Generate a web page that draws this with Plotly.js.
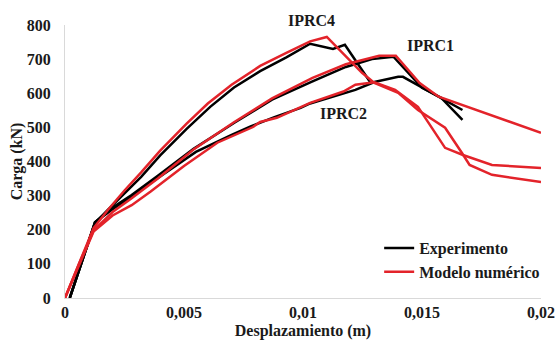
<!DOCTYPE html>
<html>
<head>
<meta charset="utf-8">
<script src="https://cdn.plot.ly/plotly-3.0.1.min.js"></script>
<style>html,body{margin:0;padding:0;background:#fff;}#chart{width:558px;height:348px;}</style>
</head>
<body>
<div id="chart"></div>
<script>
// Experimental curves (black)
const expIPRC4_x = [0.0002, 0.00126, 0.0018, 0.0025, 0.0032, 0.0040, 0.0051, 0.0061, 0.0071, 0.0082, 0.0093, 0.0103, 0.01126, 0.01176, 0.01282];
const expIPRC4_y = [0, 220, 258, 305, 355, 418, 495, 560, 617, 665, 705, 745, 730, 742, 633];
const expIPRC1_x = [0.0002, 0.00126, 0.0020, 0.0028, 0.0039, 0.0054, 0.0071, 0.0087, 0.0104, 0.0118, 0.0129, 0.0138, 0.0150, 0.0158, 0.0167];
const expIPRC1_y = [0, 222, 265, 302, 358, 437, 513, 581, 635, 677, 700, 707, 616, 587, 522];
const expIPRC2_x = [0.0002, 0.00126, 0.0020, 0.0028, 0.0036, 0.0055, 0.0070, 0.0078, 0.0088, 0.0099, 0.0103, 0.0122, 0.0130, 0.0140, 0.0142, 0.0154, 0.0167];
const expIPRC2_y = [0, 222, 260, 297, 337, 428, 478, 503, 530, 557, 570, 610, 633, 648, 648, 601, 551];
// Numerical model curves (red)
const numIPRC4_x = [0, 0.0006, 0.0012, 0.0018, 0.0025, 0.0032, 0.0040, 0.0051, 0.0060, 0.0070, 0.0082, 0.0093, 0.0103, 0.0110, 0.01248, 0.0130, 0.0140, 0.01483, 0.01597, 0.01668, 0.0170, 0.01794, 0.0200];
const numIPRC4_y = [0, 105, 205, 258, 315, 368, 432, 510, 570, 625, 680, 718, 752, 765, 660, 630, 601, 551, 499, 425, 390, 361, 340];
const numIPRC1_x = [0, 0.0006, 0.0012, 0.0020, 0.0028, 0.0039, 0.0054, 0.0071, 0.0087, 0.0104, 0.0118, 0.0125, 0.0132, 0.0139, 0.0149, 0.0157, 0.0169, 0.0200];
const numIPRC1_y = [0, 102, 198, 252, 292, 350, 435, 515, 585, 645, 685, 698, 710, 710, 630, 590, 560, 484];
const numIPRC2_x = [0, 0.0006, 0.0012, 0.0020, 0.0028, 0.0036, 0.0050, 0.0064, 0.0079, 0.0082, 0.0089, 0.0103, 0.0117, 0.0122, 0.0130, 0.01387, 0.01483, 0.01597, 0.01672, 0.01794, 0.0200];
const numIPRC2_y = [0, 100, 195, 242, 272, 312, 387, 455, 501, 516, 528, 572, 605, 625, 632, 610, 560, 440, 419, 390, 381];
// Labels (data coordinates)
const labelText = ['IPRC4', 'IPRC1', 'IPRC2'];
const labelX = [0.01034, 0.01534, 0.01172];
const labelY = [812, 739, 542];
const xTicks = [0, 0.005, 0.01, 0.015, 0.02];
const yTicks = [0, 100, 200, 300, 400, 500, 600, 700, 800];
const yMax = 800;

const BLACK = '#000000';
const RED = '#e3232a';
const LW = 2.5;
const FONT = 'Liberation Serif, Times New Roman, serif';

function tr(x, y, color, name, show) {
  return {x: x, y: y, type: 'scatter', mode: 'lines', name: name, showlegend: show,
          legendgroup: name, line: {color: color, width: LW}, hoverinfo: 'skip'};
}
const data = [
  tr(expIPRC4_x, expIPRC4_y, BLACK, 'Experimento', true),
  tr(expIPRC1_x, expIPRC1_y, BLACK, 'Experimento', false),
  tr(expIPRC2_x, expIPRC2_y, BLACK, 'Experimento', false),
  tr(numIPRC4_x, numIPRC4_y, RED, 'Modelo numérico', true),
  tr(numIPRC1_x, numIPRC1_y, RED, 'Modelo numérico', false),
  tr(numIPRC2_x, numIPRC2_y, RED, 'Modelo numérico', false)
];

// yref 'paper' so a label above the axis range is still drawn
const annotations = labelText.map((t, i) => ({
  x: labelX[i], y: labelY[i] / yMax, xref: 'x', yref: 'paper', text: '<b>' + t + '</b>',
  xanchor: 'center', yanchor: 'middle',
  showarrow: false, font: {family: FONT, size: 16, color: '#1a1a1a'}
}));

const layout = {
  width: 558, height: 348,
  margin: {l: 65, r: 17, t: 25, b: 50, pad: 0},
  paper_bgcolor: '#ffffff', plot_bgcolor: '#ffffff',
  separators: ',.',
  font: {family: FONT, size: 16, color: '#1a1a1a', weight: 'bold'},
  showlegend: true,
  legend: {x: 0.66, y: 0.245, xanchor: 'left', yanchor: 'top', bgcolor: 'rgba(0,0,0,0)',
           font: {family: FONT, size: 16, color: '#1a1a1a', weight: 'bold'},
           tracegroupgap: 0, itemwidth: 30},
  xaxis: {range: [0, 0.02], tickvals: xTicks, showgrid: false, zeroline: false,
          showline: true, linecolor: '#d9d9d9', linewidth: 1, ticks: '',
          tickfont: {family: FONT, size: 16, color: '#1a1a1a', weight: 'bold'},
          title: {text: '<b>Desplazamiento (m)</b>', font: {family: FONT, size: 16, color: '#1a1a1a'}, standoff: 4}},
  yaxis: {range: [0, yMax], tickvals: yTicks, showgrid: false, zeroline: false,
          showline: true, linecolor: '#d9d9d9', linewidth: 1, ticks: '', ticklabelstandoff: 10,
          tickfont: {family: FONT, size: 16, color: '#1a1a1a', weight: 'bold'},
          title: {text: '<b>Carga (kN)</b>', font: {family: FONT, size: 16, color: '#1a1a1a'}, standoff: 0}},
  annotations: annotations
};

Plotly.newPlot('chart', data, layout, {displayModeBar: false, staticPlot: true});
</script>
</body>
</html>
